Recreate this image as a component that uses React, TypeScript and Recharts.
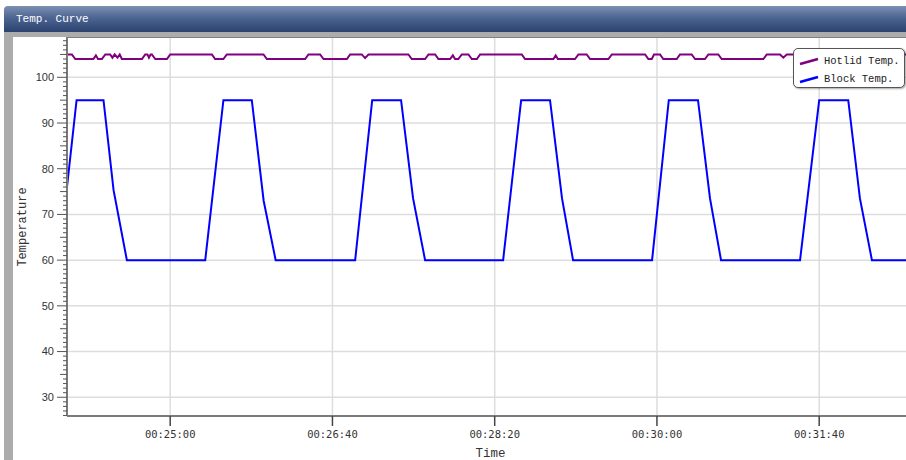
import { LineChart, Line, XAxis, YAxis, CartesianGrid, Legend } from "recharts";

// time in seconds since start
const hotlidTime = [
  1436.4, 1439.4, 1441.5, 1452.7, 1454.2, 1455.5, 1457.9, 1460.0, 1463.0, 1464.4,
  1465.8, 1467.5, 1468.9, 1470.2, 1482.6, 1484.6, 1486.0, 1486.9, 1487.9, 1488.7,
  1490.8, 1498.0, 1500.0, 1525.7, 1527.7, 1532.8, 1534.9, 1557.5, 1559.6, 1583.2,
  1585.2, 1592.4, 1594.5, 1608.9, 1610.9, 1618.1, 1620.1, 1622.2, 1646.8, 1648.9,
  1657.1, 1659.2, 1663.3, 1665.3, 1672.5, 1674.2, 1675.6, 1677.6, 1679.7, 1683.8,
  1685.9, 1689.0, 1691.0, 1716.7, 1718.7, 1736.2, 1737.6, 1738.9, 1749.5, 1751.6,
  1756.7, 1758.8, 1770.1, 1772.2, 1792.7, 1794.7, 1796.8, 1798.2, 1801.9, 1803.9,
  1812.2, 1814.2, 1821.4, 1823.5, 1829.6, 1831.7, 1837.8, 1839.9, 1865.6, 1867.7,
  1875.9, 1877.9, 1880.0, 1953.5,
];
const hotlidTemp = [
  105, 105, 104, 104, 104.8, 104, 104, 105, 105, 104.3,
  105, 104.3, 105, 104, 104, 105, 105, 104.3, 105, 105,
  104, 104, 105, 105, 104, 104, 105, 105, 104, 104,
  105, 105, 104, 104, 105, 105, 104.2, 105, 105, 104,
  104, 105, 105, 104, 104, 104.8, 104, 104, 105, 105,
  104, 104, 105, 105, 104, 104, 104.8, 104, 104, 105,
  105, 104, 104, 105, 105, 104, 104, 105, 105, 104,
  104, 105, 105, 104, 104, 105, 105, 104, 104, 105,
  105, 104.3, 105, 105,
];

const blockTime = [
  1436.4, 1442.3, 1458.9, 1465.1, 1473.3,
  1521.6, 1532.8, 1550.3, 1557.6, 1565.0,
  1614.0, 1624.5, 1642.3, 1649.7, 1657.1,
  1705.2, 1716.3, 1734.1, 1741.5, 1748.3,
  1797.0, 1807.3, 1825.3, 1832.7, 1839.5,
  1888.2, 1900.0, 1917.9, 1925.1, 1932.5,
  1953.5,
];
const blockTemp = [
  76, 95, 95, 75.3, 60,
  60, 95, 95, 73, 60,
  60, 95, 95, 73.5, 60,
  60, 95, 95, 73.5, 60,
  60, 95, 95, 73.5, 60,
  60, 95, 95, 73.5, 60,
  60,
];

const xTicks = [1500, 1600, 1700, 1800, 1900];
const yMajor = [30, 40, 50, 60, 70, 80, 90, 100];
const yAll = Array.from({ length: 83 }, (_, i) => 26 + i);

const hotlidData = hotlidTime.map((t, i) => ({ t, v: hotlidTemp[i] }));
const blockData = blockTime.map((t, i) => ({ t, v: blockTemp[i] }));

const fmtTime = (s: number) => {
  const h = Math.floor(s / 3600);
  const m = Math.floor((s % 3600) / 60);
  const sec = Math.round(s % 60);
  const p = (n: number) => String(n).padStart(2, "0");
  return `${p(h)}:${p(m)}:${p(sec)}`;
};

const YTick = (props: any) => {
  const { x, y, payload } = props;
  const v = payload.value;
  const major = v % 10 === 0;
  const len = major ? 10 : v % 5 === 0 ? 7 : 4;
  return (
    <g>
      <line x1={x - len} x2={x} y1={y} y2={y} stroke="#555" strokeWidth={1} />
      {major && (
        <text
          x={x - 13}
          y={y}
          dy="0.35em"
          textAnchor="end"
          fontFamily="Liberation Sans"
          fontSize={11}
          fill="#333"
        >
          {v}
        </text>
      )}
    </g>
  );
};

const legendItems = [
  { name: "Hotlid Temp.", color: "#800080" },
  { name: "Block Temp.", color: "#0000ff" },
];

const renderLegend = () => (
  <div
    style={{
      position: "relative",
      width: 110,
      height: 38,
      border: "1px solid #555",
      borderRadius: 5,
      background: "#fff",
      boxShadow: "1px 1px 2px rgba(0,0,0,0.35)",
      fontFamily: "Liberation Mono",
      fontSize: 10.5,
      color: "#222",
    }}
  >
    {legendItems.map((it, i) => (
      <div
        key={it.name}
        style={{ position: "absolute", left: 5, top: 4 + i * 17.6, height: 16, display: "flex", alignItems: "center" }}
      >
        <svg width={22} height={16}>
          <line x1={1} y1={11} x2={19} y2={6} stroke={it.color} strokeWidth={2.5} />
        </svg>
        <span style={{ marginLeft: 3, whiteSpace: "nowrap" }}>{it.name}</span>
      </div>
    ))}
  </div>
);

export default function App() {
  return (
    <div
      style={{
        position: "absolute",
        left: 0,
        top: 0,
        width: 906,
        height: 460,
        background: "#fff",
        overflow: "hidden",
      }}
    >
      {/* window frame */}
      <div
        style={{
          position: "absolute",
          left: 4,
          top: 6,
          width: 902,
          height: 26,
          borderTopLeftRadius: 4,
          background: "linear-gradient(#7d90b2, #4d6592 45%, #2b426f)",
          color: "#fff",
          fontFamily: "Liberation Mono",
          fontSize: 11,
          lineHeight: "26px",
          paddingLeft: 12,
          boxSizing: "border-box",
        }}
      >
        Temp. Curve
      </div>
      <div style={{ position: "absolute", left: 4, top: 32, width: 902, height: 5, background: "#acacac" }} />
      <div style={{ position: "absolute", left: 4, top: 32, width: 9, height: 428, background: "#acacac" }} />
      <div style={{ position: "absolute", left: 66, top: 37, width: 840, height: 1, background: "#808080" }} />

      <div style={{ position: "absolute", left: 0, top: 0 }}>
        <LineChart width={906} height={460} margin={{ top: 38, right: 0, bottom: 0, left: 0 }}>
          <CartesianGrid
            stroke="#dddddd"
            strokeWidth={1.5}
            horizontalValues={yMajor}
            verticalValues={xTicks}
          />
          <XAxis
            dataKey="t"
            type="number"
            domain={[1436.4, 1953.5]}
            allowDataOverflow
            ticks={xTicks}
            tickFormatter={fmtTime}
            height={44}
            tickSize={10}
            tickMargin={5}
            axisLine={{ stroke: "#7a7a7a", strokeWidth: 2 }}
            tickLine={{ stroke: "#444", strokeWidth: 1.5 }}
            tick={{ fontFamily: "DejaVu Sans Mono", fontSize: 10.5, fill: "#333" }}
            label={{
              value: "Time",
              position: "insideBottom",
              offset: 3,
              dx: 4,
              style: { fontFamily: "Liberation Mono", fontSize: 12.5, fill: "#333" },
            }}
          />
          <YAxis
            type="number"
            domain={[25.9, 108.6]}
            allowDataOverflow
            ticks={yAll}
            interval={0}
            width={67}
            tickSize={0}
            tickMargin={0}
            tickLine={false}
            tick={<YTick />}
            axisLine={{ stroke: "#7a7a7a", strokeWidth: 2 }}
            label={{
              value: "Temperature",
              angle: -90,
              position: "insideLeft",
              offset: 22,
              style: { textAnchor: "middle", fontFamily: "Liberation Mono", fontSize: 12, fill: "#333" },
            }}
          />
          <Line
            data={hotlidData}
            dataKey="v"
            name="Hotlid Temp."
            type="linear"
            stroke="#800080"
            strokeWidth={2}
            dot={false}
            isAnimationActive={false}
          />
          <Line
            data={blockData}
            dataKey="v"
            name="Block Temp."
            type="linear"
            stroke="#0000ff"
            strokeWidth={2}
            dot={false}
            isAnimationActive={false}
          />
          <Legend
            verticalAlign="middle"
            align="center"
            content={renderLegend}
            wrapperStyle={{ position: "absolute", left: 793, top: 48, width: "auto", height: "auto" }}
          />
        </LineChart>
      </div>
    </div>
  );
}
